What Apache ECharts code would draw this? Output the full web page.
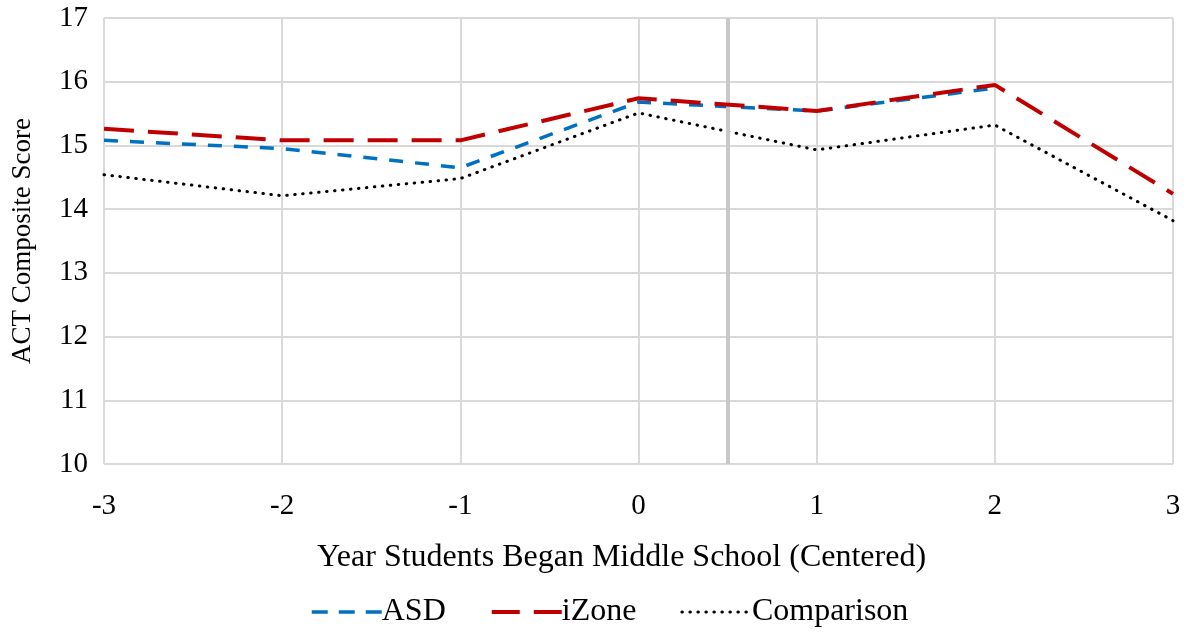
<!DOCTYPE html>
<html>
<head>
<meta charset="utf-8">
<script src="https://cdn.jsdelivr.net/npm/echarts@6/dist/echarts.min.js"></script>
<style>
  html, body { margin: 0; padding: 0; background: #fff; }
  #chart { width: 1188px; height: 633px; }
</style>
</head>
<body>
<div id="chart"></div>
<script>
// 横轴：开始读初中的年份（中心化）
var years = [-3, -2, -1, 0, 1, 2, 3];
var asd = [15.08, 14.95, 14.65, 15.68, 15.54, 15.90, null];
var izone = [15.26, 15.08, 15.08, 15.74, 15.54, 15.95, 14.24];
var comparison = [14.54, 14.21, 14.48, 15.51, 14.93, 15.32, 13.82];
var cutoff = 0.5; // 灰色竖线位置

function pairs(vals) {
    return years.map(function(x, i) { return [x, vals[i]]; });
}

var myChart = echarts.init(document.getElementById('chart'));
var font = 'Liberation Serif';

var option = {
    animation: false,
    textStyle: { fontFamily: font, color: '#000' },
    grid: { left: 104, right: 15, top: 18, bottom: 169, outerBoundsMode: 'none', containLabel: false },
    legend: {
        bottom: 0,
        left: 305,
        itemWidth: 70,
        itemHeight: 14,
        itemGap: 44,
        itemStyle: { opacity: 0 },
        textStyle: { fontFamily: font, fontSize: 32, color: '#000', padding: [0, 0, 0, -5] },
        data: [
            { name: 'ASD', lineStyle: { type: [16, 11], width: 3.5 } },
            { name: 'iZone', lineStyle: { type: [28, 14], width: 4 } },
            { name: 'Comparison', lineStyle: { type: [0.5, 7.5], width: 3, cap: 'round' } }
        ]
    },
    xAxis: {
        type: 'value',
        min: -3, max: 3, interval: 1,
        name: 'Year Students Began Middle School (Centered)',
        nameLocation: 'middle',
        nameGap: 78,
        nameTextStyle: { fontFamily: font, fontSize: 32, color: '#000', padding: [0, 34, 0, 0] },
        axisLine: { show: false },
        axisTick: { show: false },
        axisLabel: { fontFamily: font, fontSize: 29, color: '#000', margin: 28 },
        splitLine: { show: true, lineStyle: { color: '#d9d9d9', width: 2 } }
    },
    yAxis: {
        type: 'value',
        min: 10, max: 17, interval: 1,
        name: 'ACT Composite Score',
        nameLocation: 'middle',
        nameGap: 68,
        nameTextStyle: { fontFamily: font, fontSize: 27, color: '#000' },
        axisLine: { show: false },
        axisTick: { show: false },
        axisLabel: { fontFamily: font, fontSize: 29, color: '#000', margin: 16 },
        splitLine: { show: true, lineStyle: { color: '#d9d9d9', width: 2 } }
    },
    series: [
        {
            name: 'Comparison', type: 'line', data: pairs(comparison),
            symbol: 'none',
            lineStyle: { color: '#000', width: 3, type: [0.5, 7.5], cap: 'round' },
            itemStyle: { color: '#000' },
            z: 3
        },
        {
            name: 'ASD', type: 'line', data: pairs(asd),
            symbol: 'none',
            lineStyle: { color: '#0070c0', width: 3.5, type: [14, 12] },
            itemStyle: { color: '#0070c0' },
            z: 4,
            markLine: {
                silent: true, symbol: 'none', label: { show: false },
                lineStyle: { color: '#c8c8c8', width: 4, type: 'solid' },
                data: [{ xAxis: cutoff }]
            }
        },
        {
            name: 'iZone', type: 'line', data: pairs(izone),
            symbol: 'none',
            lineStyle: { color: '#c00000', width: 4, type: [30, 14] },
            itemStyle: { color: '#c00000' },
            z: 5
        }
    ]
};
myChart.setOption(option);
</script>
</body>
</html>
